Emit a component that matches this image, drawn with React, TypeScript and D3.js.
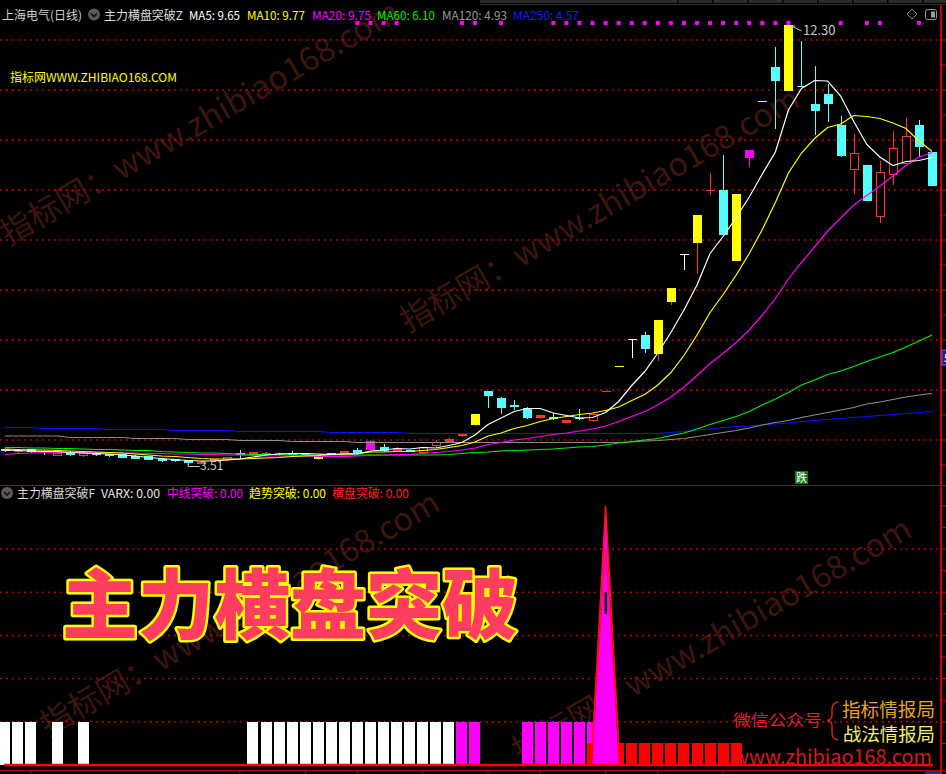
import React from 'react';
import * as d3 from 'd3';

const W = 946;
const H = 774;
const FONT = '"Noto Sans CJK SC", "Noto Sans", sans-serif';

// daily candles (price)
const candleOpen = [3.82, 3.76, 3.82, 3.78, 3.69, 3.77, 3.68, 3.74, 3.72, 3.72, 3.69, 3.68, 3.63, 3.62, 3.60, 3.53, 3.58, 3.60, 3.74, 3.70, 3.70, 3.70, 3.75, 3.73, 3.63, 3.74, 3.73, 3.80, 3.81, 3.87, 3.79, 3.80, 3.75, 3.88, 3.97, 4.09, 4.30, 4.98, 4.85, 4.70, 4.65, 4.45, 4.47, 4.35, 4.45, 4.39, 4.97, 5.47, 6.02, 6.10, 5.73, 6.77, 7.73, 7.95, 9.00, 9.00, 7.59, 9.65, 10.77, 11.47, 10.99, 11.09, 10.72, 10.93, 10.30, 9.41, 9.50, 8.47, 9.30, 9.53, 10.30, 9.76];
const candleHigh = [3.83, 3.80, 3.83, 3.80, 3.76, 3.78, 3.76, 3.75, 3.73, 3.73, 3.70, 3.69, 3.64, 3.63, 3.61, 3.58, 3.63, 3.67, 3.80, 3.77, 3.77, 3.76, 3.79, 3.74, 3.69, 3.75, 3.79, 3.84, 4.00, 3.92, 3.87, 3.81, 3.87, 4.01, 4.04, 4.14, 4.53, 4.99, 4.86, 4.80, 4.66, 4.51, 4.55, 4.41, 4.63, 4.57, 4.99, 5.49, 6.02, 6.17, 6.40, 7.04, 7.73, 8.50, 9.34, 9.70, 8.92, 9.80, 10.79, 11.87, 12.30, 11.98, 11.48, 11.12, 10.48, 10.13, 9.50, 9.58, 10.18, 10.45, 10.40, 9.76];
const candleLow = [3.77, 3.75, 3.75, 3.70, 3.68, 3.69, 3.67, 3.69, 3.67, 3.64, 3.62, 3.60, 3.57, 3.56, 3.51, 3.52, 3.56, 3.59, 3.64, 3.69, 3.69, 3.69, 3.70, 3.69, 3.61, 3.70, 3.72, 3.74, 3.80, 3.77, 3.78, 3.76, 3.74, 3.87, 3.96, 4.07, 4.29, 4.65, 4.53, 4.60, 4.42, 4.43, 4.41, 4.34, 4.41, 4.37, 4.97, 5.47, 5.65, 5.75, 5.58, 6.70, 7.40, 7.33, 8.90, 8.10, 7.59, 9.47, 10.77, 10.23, 10.99, 11.09, 10.10, 10.37, 9.67, 8.93, 8.79, 8.35, 9.10, 9.53, 9.67, 9.09];
const candleClose = [3.78, 3.79, 3.76, 3.76, 3.75, 3.70, 3.75, 3.70, 3.68, 3.65, 3.63, 3.61, 3.58, 3.58, 3.55, 3.57, 3.62, 3.66, 3.70, 3.76, 3.75, 3.75, 3.71, 3.70, 3.68, 3.71, 3.78, 3.75, 3.98, 3.78, 3.84, 3.77, 3.86, 3.97, 4.03, 4.13, 4.52, 4.88, 4.65, 4.67, 4.45, 4.50, 4.42, 4.40, 4.42, 4.53, 4.99, 5.49, 6.02, 5.82, 6.40, 7.04, 7.73, 8.50, 9.00, 8.10, 8.92, 9.80, 10.79, 11.18, 12.30, 11.09, 10.58, 10.73, 9.68, 9.75, 8.79, 9.37, 9.85, 10.08, 9.87, 9.09];
// c = fall (cyan), r = rise (red hollow), y = yellow, m = magenta, w = white
const candleKind = 'c r c c r c r c c c c c c c c r r r c r r r c c y c r c m c r c r r r r y c c c c r c r c r m y w c y y w y r c y m y c y c c c c r c r r r c c'.split(' ');

const ma5 = [3.80, 3.79, 3.78, 3.77, 3.77, 3.75, 3.74, 3.73, 3.72, 3.70, 3.68, 3.65, 3.63, 3.61, 3.59, 3.58, 3.58, 3.60, 3.62, 3.66, 3.70, 3.72, 3.73, 3.73, 3.72, 3.71, 3.72, 3.72, 3.78, 3.80, 3.83, 3.82, 3.85, 3.84, 3.89, 3.95, 4.10, 4.31, 4.44, 4.57, 4.63, 4.63, 4.54, 4.49, 4.44, 4.45, 4.55, 4.77, 5.09, 5.37, 5.74, 6.15, 6.60, 7.10, 7.73, 8.07, 8.45, 8.86, 9.32, 9.76, 10.60, 11.03, 11.19, 11.18, 10.88, 10.37, 9.91, 9.66, 9.49, 9.57, 9.59, 9.65];
const ma10 = [3.82, 3.81, 3.80, 3.80, 3.79, 3.78, 3.77, 3.76, 3.75, 3.74, 3.72, 3.70, 3.68, 3.67, 3.65, 3.63, 3.62, 3.62, 3.62, 3.63, 3.64, 3.65, 3.67, 3.68, 3.69, 3.71, 3.72, 3.73, 3.76, 3.76, 3.77, 3.77, 3.79, 3.81, 3.85, 3.89, 3.96, 4.08, 4.14, 4.23, 4.29, 4.37, 4.43, 4.47, 4.51, 4.54, 4.59, 4.66, 4.79, 4.91, 5.10, 5.35, 5.69, 6.10, 6.55, 6.91, 7.30, 7.73, 8.21, 8.75, 9.34, 9.74, 10.03, 10.25, 10.32, 10.49, 10.47, 10.43, 10.34, 10.23, 9.98, 9.77];
const ma20 = [3.71, 3.73, 3.74, 3.75, 3.75, 3.75, 3.75, 3.75, 3.75, 3.74, 3.74, 3.73, 3.73, 3.72, 3.72, 3.71, 3.71, 3.70, 3.70, 3.69, 3.68, 3.68, 3.68, 3.68, 3.67, 3.67, 3.67, 3.68, 3.69, 3.70, 3.71, 3.71, 3.73, 3.75, 3.77, 3.80, 3.84, 3.91, 3.95, 4.00, 4.03, 4.07, 4.11, 4.14, 4.18, 4.22, 4.28, 4.37, 4.47, 4.57, 4.70, 4.86, 5.06, 5.29, 5.53, 5.73, 5.95, 6.20, 6.50, 6.83, 7.22, 7.55, 7.86, 8.18, 8.44, 8.70, 8.89, 9.08, 9.28, 9.49, 9.66, 9.75];
const ma60 = [3.85, 3.85, 3.84, 3.84, 3.83, 3.83, 3.82, 3.81, 3.81, 3.80, 3.79, 3.79, 3.77, 3.76, 3.75, 3.74, 3.74, 3.73, 3.72, 3.71, 3.71, 3.71, 3.70, 3.70, 3.70, 3.70, 3.70, 3.70, 3.70, 3.70, 3.70, 3.70, 3.70, 3.70, 3.71, 3.73, 3.75, 3.76, 3.78, 3.79, 3.80, 3.81, 3.82, 3.84, 3.86, 3.87, 3.90, 3.94, 3.97, 4.00, 4.03, 4.09, 4.14, 4.22, 4.31, 4.39, 4.47, 4.57, 4.70, 4.82, 4.95, 5.10, 5.20, 5.31, 5.38, 5.47, 5.57, 5.66, 5.75, 5.86, 5.98, 6.10];
const ma120 = [4.08, 4.08, 4.08, 4.08, 4.08, 4.05, 4.05, 4.05, 4.05, 4.05, 4.03, 4.03, 4.03, 4.03, 4.01, 4.01, 4.01, 4.01, 3.99, 3.99, 3.99, 3.99, 3.97, 3.97, 3.97, 3.97, 3.97, 3.95, 3.95, 3.95, 3.95, 3.95, 3.95, 3.95, 3.95, 3.95, 3.95, 3.95, 3.95, 3.95, 3.95, 3.95, 3.95, 3.95, 3.95, 3.95, 3.95, 3.95, 3.96, 3.98, 3.99, 4.01, 4.03, 4.07, 4.11, 4.15, 4.19, 4.24, 4.30, 4.35, 4.39, 4.45, 4.50, 4.55, 4.60, 4.65, 4.72, 4.76, 4.81, 4.86, 4.90, 4.93];
const ma250 = [4.25, 4.25, 4.25, 4.23, 4.23, 4.23, 4.23, 4.23, 4.21, 4.21, 4.21, 4.21, 4.21, 4.19, 4.19, 4.19, 4.19, 4.19, 4.17, 4.17, 4.17, 4.17, 4.17, 4.17, 4.17, 4.15, 4.15, 4.15, 4.15, 4.15, 4.15, 4.13, 4.13, 4.13, 4.13, 4.13, 4.13, 4.13, 4.13, 4.13, 4.13, 4.13, 4.13, 4.13, 4.13, 4.13, 4.13, 4.13, 4.13, 4.13, 4.13, 4.15, 4.17, 4.20, 4.22, 4.25, 4.27, 4.28, 4.30, 4.32, 4.34, 4.37, 4.39, 4.41, 4.43, 4.45, 4.47, 4.49, 4.51, 4.53, 4.55, 4.57];

// signal dots along the top of the main panel
const signalDots = [27, 28, 29, 30, 35, 36, 38, 42, 43, 44, 45, 46, 47, 48, 49, 50, 51, 52, 53, 54, 55, 56, 57, 58, 59, 60, 64, 66, 67, 70];

// lower panel
const varxBars = [0, 1, 2, 4, 6, 19, 20, 21, 22, 23, 24, 25, 26, 27, 28, 29, 30, 31, 32, 33, 34];
const midBreakBars = [35, 36, 40, 41, 42, 43, 44, 45];
const flatBreakBars = [45, 46, 47, 48, 49, 50, 51, 52, 53, 54, 55, 56];
const spikeIdx = [45, 46, 47];
const spikeFill = [0, 6, 0];
const spikeLine = [0.5, 6, 0.5];
const spikeInner = [0.5, 5, 0.5];
const dateTicks = [2, 18, 23, 27, 32, 37, 41, 46, 50, 55];

const priceGrid = [4, 5, 6, 7, 8, 9, 10, 11, 12];
const indGrid = [1, 2, 3, 4, 5];

const maSeries = [
  { vals: ma250, color: '#1010ff' },
  { vals: ma120, color: '#8c8c8c' },
  { vals: ma60, color: '#00ee00' },
  { vals: ma20, color: '#ff00ff' },
  { vals: ma10, color: '#ffff00' },
  { vals: ma5, color: '#ffffff' },
];

const header = [
  { t: 'MA5: 9.65', x: 189, len: 51, c: '#ffffff' },
  { t: 'MA10: 9.77', x: 247, len: 58, c: '#ffff00' },
  { t: 'MA20: 9.75', x: 312, len: 59, c: '#ff00ff' },
  { t: 'MA60: 6.10', x: 377, len: 58, c: '#00ee00' },
  { t: 'MA120: 4.93', x: 442, len: 65, c: '#9a9a9a' },
  { t: 'MA250: 4.57', x: 513, len: 66, c: '#1a1aff' },
];
const lowerHeader = [
  { t: 'VARX: 0.00', x: 101, len: 59, c: '#e8e8e8' },
  { t: '中线突破: 0.00', x: 167, len: 76, c: '#ff00ff' },
  { t: '趋势突破: 0.00', x: 249, len: 77, c: '#ffff00' },
  { t: '横盘突破: 0.00', x: 332, len: 77, c: '#ff2020' },
];

const watermarks = [
  { x: 8, y: 246 },
  { x: 408, y: 333 },
  { x: 48, y: 737 },
  { x: 520, y: 763 },
];

const kindColor: Record<string, string> = {
  c: '#54ffff',
  r: '#ff3232',
  y: '#ffff00',
  m: '#ff00ff',
  w: '#ffffff',
};

const xScale = d3.scaleLinear().domain([0, candleOpen.length - 1]).range([4.8, 932.1]);
const yPrice = d3.scaleLinear().domain([3.5, 12.3]).range([465, 25]);
const yInd = d3.scaleLinear().domain([0, 6]).range([765, 505.8]);

function Chevron({ cx, cy }: { cx: number; cy: number }) {
  return (
    <g>
      <circle cx={cx} cy={cy} r={6} fill="#5a5a5a" />
      <path d={`M${cx - 3},${cy - 1} L${cx},${cy + 2} L${cx + 3},${cy - 1}`} stroke="#111" strokeWidth={1.6} fill="none" />
    </g>
  );
}

export default function App() {
  const maLine = d3.line<number>().x((_, i) => xScale(i)).y((v) => yPrice(v));
  const spikeArea = d3.area<number>()
    .x((_, i) => xScale(spikeIdx[i]))
    .y0(yInd(0))
    .y1((v) => yInd(v));
  const spikeOutline = d3.line<number>().x((_, i) => xScale(spikeIdx[i])).y((v) => yInd(v));

  return (
    <svg width={W} height={H} style={{ position: 'absolute', left: 0, top: 0, display: 'block', background: '#000' }} fontFamily={FONT}>
      <rect width={W} height={H} fill="#000" />

      {/* top strip */}
      <rect x={480} y={0} width={466} height={3} fill="#2c2c2c" />
      {[677, 712, 747, 782, 817, 852, 887, 922].map((x) => (
        <rect key={x} x={x} y={0} width={1.5} height={3} fill="#000" />
      ))}
      <line x1={480} x2={W} y1={4.5} y2={4.5} stroke="#333" />

      {/* watermarks */}
      {watermarks.map((w, i) => (
        <text key={i} transform={`translate(${w.x},${w.y}) rotate(-30)`} fontSize={32} fill="#3d150d" textLength={455} lengthAdjust="spacingAndGlyphs">
          指标网：www.zhibiao168.com
        </text>
      ))}

      {/* grid lines */}
      {priceGrid.map((p) => (
        <line key={p} x1={0} x2={940} y1={yPrice(p)} y2={yPrice(p)} stroke="#c00000" strokeWidth={1.5} strokeDasharray="2 4" />
      ))}
      {indGrid.map((v) => (
        <line key={v} x1={0} x2={940} y1={yInd(v)} y2={yInd(v)} stroke="#c00000" strokeWidth={1.5} strokeDasharray="2 4" />
      ))}

      {/* header */}
      <text x={2} y={19.5} fontSize={12} fill="#cfcfcf" textLength={80} lengthAdjust="spacingAndGlyphs">上海电气(日线)</text>
      <Chevron cx={94} cy={14.5} />
      <text x={104} y={19.5} fontSize={12} fill="#dcdcdc" textLength={79} lengthAdjust="spacingAndGlyphs">主力横盘突破Z</text>
      {header.map((h) => (
        <text key={h.t} x={h.x} y={19.5} fontSize={12} fill={h.c} textLength={h.len} lengthAdjust="spacingAndGlyphs">{h.t}</text>
      ))}
      <path d="M912,9 L917,14 L912,19 L907,14 Z" fill="none" stroke="#8a8a8a" />
      <rect x={925.5} y={9.5} width={11} height={10} rx={2} fill="none" stroke="#9a9a9a" />
      <rect x={931} y={11.5} width={4} height={6} fill="#9a9a9a" />

      {signalDots.map((i) => (
        <rect key={i} x={xScale(i) - 2} y={21} width={4} height={4} fill="#ff00ff" />
      ))}

      <text x={10} y={82} fontSize={12} fill="#ffff00" textLength={167} lengthAdjust="spacingAndGlyphs">指标网WWW.ZHIBIAO168.COM</text>

      {/* candles */}
      <g shapeRendering="crispEdges">
        {candleOpen.map((o, i) => {
          const c = candleClose[i];
          const k = candleKind[i];
          const col = kindColor[k];
          const wickCol = k === 'y' ? '#ff3232' : col;
          const cx = Math.round(xScale(i)) + 0.5;
          const top = yPrice(Math.max(o, c));
          const bot = yPrice(Math.min(o, c));
          const bh = Math.max(bot - top, 1);
          const hollow = k === 'r' && bh > 3;
          return (
            <g key={i}>
              <line x1={cx} x2={cx} y1={yPrice(candleHigh[i])} y2={top} stroke={wickCol} />
              <line x1={cx} x2={cx} y1={top + bh} y2={yPrice(candleLow[i])} stroke={wickCol} />
              {hollow ? (
                <rect x={cx - 4} y={top + 0.5} width={8} height={bh - 1} fill="#000" stroke={col} />
              ) : (
                <rect x={cx - 4.5} y={top} width={9} height={bh} fill={col} />
              )}
            </g>
          );
        })}
      </g>

      {/* moving averages */}
      {maSeries.map((s, i) => (
        <path key={i} d={maLine(s.vals) ?? ''} fill="none" stroke={s.color} strokeWidth={1.2} />
      ))}

      {/* high / low labels */}
      <path d={`M${xScale(60) + 3},26 L${xScale(60) + 13},31 M${xScale(60) + 3},26 l4,0 M${xScale(60) + 3},26 l1,3.5`} stroke="#c8c8c8" fill="none" />
      <text x={803} y={35} fontSize={13} fill="#c8c8c8">12.30</text>
      <path d={`M${xScale(14) + 0.5},${yPrice(3.51) - 3} L${xScale(14) + 0.5},${yPrice(3.51) + 2} L${xScale(14) + 12},${yPrice(3.51) + 2}`} stroke="#c8c8c8" fill="none" />
      <text x={200} y={470} fontSize={12} fill="#c8c8c8">3.51</text>

      <rect x={xScale(61) - 6.5} y={471} width={13} height={13} fill="#127a12" />
      <text x={xScale(61)} y={482} fontSize={11} fill="#ffffff" textAnchor="middle">跌</text>

      {/* right axis */}
      <line x1={941} x2={941} y1={5} y2={H} stroke="#d00000" strokeWidth={2} />
      {d3.range(3.5, 12.01, 0.5).map((p) => (
        <line key={p} x1={941} x2={946} y1={yPrice(p)} y2={yPrice(p)} stroke="#d00000" />
      ))}
      {d3.range(0.5, 6.01, 0.5).map((v) => (
        <line key={v} x1={941} x2={946} y1={yInd(v)} y2={yInd(v)} stroke="#d00000" />
      ))}
      <rect x={942} y={350} width={8} height={15} fill="#1c1c8c" stroke="#5a5aff" />
      <text x={944} y={362} fontSize={11} fill="#fff">5</text>

      {/* panel separator */}
      <line x1={0} x2={W} y1={485.5} y2={485.5} stroke="#b00000" />

      {/* lower header */}
      <Chevron cx={7} cy={493} />
      <text x={17} y={498} fontSize={12} fill="#d8d8d8" textLength={78} lengthAdjust="spacingAndGlyphs">主力横盘突破F</text>
      {lowerHeader.map((h) => (
        <text key={h.t} x={h.x} y={498} fontSize={12} fill={h.c} textLength={h.len} lengthAdjust="spacingAndGlyphs">{h.t}</text>
      ))}

      {/* lower bars */}
      <g shapeRendering="crispEdges">
        {varxBars.map((i) => (
          <rect key={`w${i}`} x={xScale(i) - 5.5} y={yInd(1)} width={11} height={yInd(0) - yInd(1)} fill="#ffffff" />
        ))}
        {midBreakBars.map((i) => (
          <rect key={`m${i}`} x={xScale(i) - 5.5} y={yInd(1)} width={11} height={yInd(0) - yInd(1)} fill="#ff00ff" />
        ))}
        {flatBreakBars.map((i) => (
          <rect key={`r${i}`} x={xScale(i) - 5.5} y={yInd(0.5)} width={11} height={yInd(0) - yInd(0.5)} fill="#ff0000" />
        ))}
      </g>
      <path d={spikeArea(spikeFill) ?? ''} fill="#ff00ff" />
      <path d={spikeOutline(spikeInner) ?? ''} fill="none" stroke="#ff1010" strokeWidth={1} />
      <rect x={xScale(46) - 1} y={yInd(4.0)} width={2.5} height={yInd(3.5) - yInd(4.0)} fill="#000" />
      <path d={spikeOutline(spikeLine) ?? ''} fill="none" stroke="#ff1010" strokeWidth={1.5} />
      <line x1={xScale(45)} x2={xScale(47)} y1={765} y2={765} stroke="#ffff00" strokeWidth={2} />

      <line x1={4} x2={933} y1={765} y2={765} stroke="#ff0000" strokeWidth={2.5} />
      <line x1={0} x2={W} y1={770.5} y2={770.5} stroke="#c00000" />
      {dateTicks.map((i) => (
        <line key={i} x1={xScale(i)} x2={xScale(i)} y1={770} y2={774} stroke="#c00000" />
      ))}
      <rect x={925} y={771} width={15} height={3} fill="#1a2a9a" />

      {/* big title */}
      <text x={62} y={633} fontSize={76} fontWeight={900} fill="#ff3d60" stroke="#ffff00" strokeWidth={5} strokeLinejoin="round" paintOrder="stroke">
        主力横盘突破
      </text>

      {/* bottom right notes */}
      <text x={733} y={726} fontSize={16} fill="#e02020" textLength={89} lengthAdjust="spacingAndGlyphs">微信公众号</text>
      <path d="M838,702 Q832,703 832,709 L832,715 Q832,720 827,720.5 Q832,721 832,726 L832,733 Q832,739 838,740" fill="none" stroke="#e02020" strokeWidth={1.4} />
      <text x={842} y={717} fontSize={19} fill="#f0a020" textLength={93} lengthAdjust="spacingAndGlyphs">指标情报局</text>
      <text x={843} y={741} fontSize={18} fill="#f4ee6a" textLength={92} lengthAdjust="spacingAndGlyphs">战法情报局</text>
      <text x={733} y={764} fontSize={20} fill="#d81818" textLength={199} lengthAdjust="spacingAndGlyphs">www.zhibiao168.com</text>
    </svg>
  );
}
